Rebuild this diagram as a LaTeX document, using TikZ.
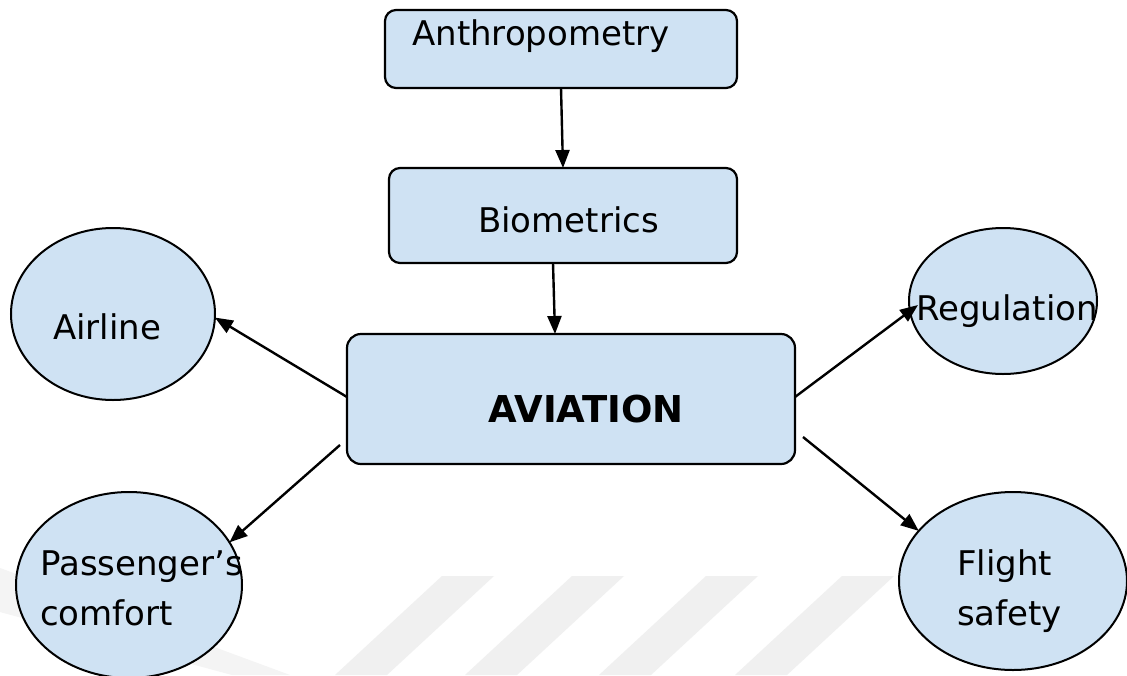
\documentclass[tikz,border=0pt]{standalone}
\usepackage{fontspec}
\setmainfont{DejaVu Sans}
\usetikzlibrary{shapes.geometric,arrows.meta}
\definecolor{boxfill}{RGB}{207,226,243}
\definecolor{wmark}{RGB}{240,240,240}
\definecolor{wmarkl}{RGB}{244,244,244}
\tikzset{
  rbox/.style={draw=black, line width=2.2pt, fill=boxfill, rounded corners=11pt, inner sep=0pt, outer sep=0pt},
  oval/.style={ellipse, draw=black, line width=2pt, fill=boxfill, inner sep=0pt, outer sep=0pt},
  lbl/.style={anchor=base west, inner sep=0pt, font=\fontsize{34}{40}\selectfont},
  conn/.style={line width=2.4pt, -{Triangle[length=18pt,width=14pt]}},
  stripe/.style={fill=wmark, draw=none}
}
\begin{document}
\begin{tikzpicture}[x=1pt, y=-1pt]
\useasboundingbox (0,0) rectangle (1127,675);
\fill[white] (0,0) rectangle (1127,675);
% faint watermark
\fill[wmarkl] (0,568) -- (290,675) -- (232,675) -- (0,612) -- cycle;
\foreach \a in {442,572,706,842}{
  \fill[stripe] (\a,576) -- (\a+52,576) -- (\a-55,675) -- (\a-107,675) -- cycle;
}
% boxes
\node[rbox, minimum width=352pt, minimum height=78pt] (anth) at (561,49) {};
\node[rbox, minimum width=348pt, minimum height=95pt] (bio) at (563,215.5) {};
\node[rbox, rounded corners=14pt, minimum width=448pt, minimum height=130pt] (av) at (571,399) {};
% ellipses
\node[oval, minimum width=204pt, minimum height=172pt] (airline) at (113,314) {};
\node[oval, minimum width=188pt, minimum height=146pt] (reg) at (1003,301) {};
\node[oval, minimum width=226pt, minimum height=186pt] (pass) at (129,585) {};
\node[oval, minimum width=228pt, minimum height=178pt] (fs) at (1013,581) {};
% texts
\node[lbl] (tanth) at (412,45) {Anthropometry};
\node[lbl] (tbio) at (478,232) {Biometrics};
\node[lbl, font=\fontsize{37}{42}\selectfont\bfseries] (tav) at (488,422) {AVIATION};
\node[lbl] (tair) at (53,339) {Airline};
\node[lbl] (treg) at (916,320) {Regulation};
\node[lbl] (tpass1) at (40,575) {Passenger’s};
\node[lbl] (tpass2) at (40,625) {comfort};
\node[lbl] (tfs1) at (957,575) {Flight};
\node[lbl] (tfs2) at (957,625) {safety};
% connectors
\draw[conn] (anth.south) -- (bio.north);
\draw[conn] ([xshift=-10pt]bio.south) -- ([xshift=-16pt]av.north);
\draw[conn] ([yshift=2pt]av.west) -- (airline.-2);
\draw[conn] ([yshift=2pt]av.east) -- ([xshift=9pt,yshift=-4pt]reg.west);
\draw[conn] ([xshift=-7pt,yshift=-46pt]av.west) -- (pass.23);
\draw[conn] ([xshift=8pt,yshift=-38pt]av.east) -- (fs.152);
\end{tikzpicture}
\end{document}
